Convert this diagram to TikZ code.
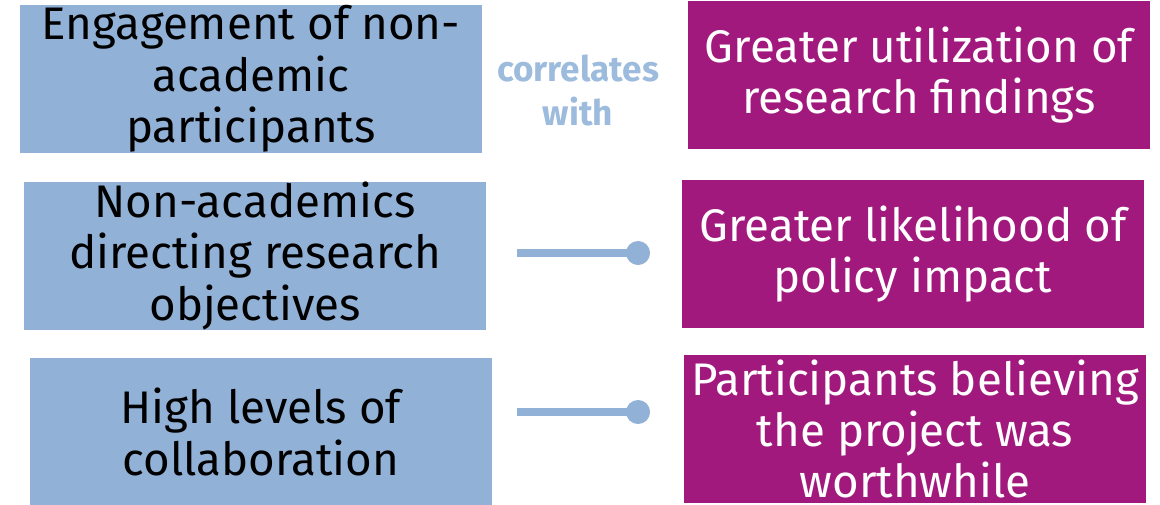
\documentclass[tikz,border=0pt]{standalone}
\usepackage{fontspec}
\setmainfont{Fira Sans}
\usetikzlibrary{arrows.meta}
\usetikzlibrary{positioning}

\definecolor{causeblue}{HTML}{92B1D7}
\definecolor{linkblue}{HTML}{9DBBDD}
\definecolor{effectpurple}{HTML}{A2197E}

\begin{document}
\begin{tikzpicture}[x=0.02cm, y=-0.02cm,
    box/.style={rectangle, minimum width=9.24cm, minimum height=2.96cm,
      inner sep=0pt, align=center, font=\fontsize{26}{29.2}\selectfont},
    cause/.style={box, fill=causeblue, text=black},
    effect/.style={box, fill=effectpurple, text=white},
    link/.style={causeblue, line width=4pt, -{Circle[length=13.6pt]}}]
  \useasboundingbox (0,0) rectangle (1160,504);
  % left column
  \node[cause]  (engage)  at (251,79)  {Engagement of non-\\academic\\participants};
  \node[cause]  (direct)  at (255,256) {Non-academics\\directing research\\objectives};
  \node[cause]  (collab)  at (261,432) {High levels of\\collaboration};
  % right column
  \node[effect] (utilize) at (919,75)  {Greater utilization of\\research findings};
  \node[effect] (policy)  at (913,254) {Greater likelihood of\\policy impact};
  \node[effect] (worth)   at (915,429) {Participants believing\\the project was\\worthwhile};
  % middle
  \node[font=\bfseries\fontsize{20}{25}\selectfont, text=linkblue, align=center]
    (corr) at (578,90) {correlates\\with};
  \coordinate (d0) at (517,253);
  \coordinate (d1) at (650,253);
  \coordinate (c0) at (517,412);
  \coordinate (c1) at (650,412);
  \draw[link] (d0) -- (d1);
  \draw[link] (c0) -- (c1);
\end{tikzpicture}
\end{document}
